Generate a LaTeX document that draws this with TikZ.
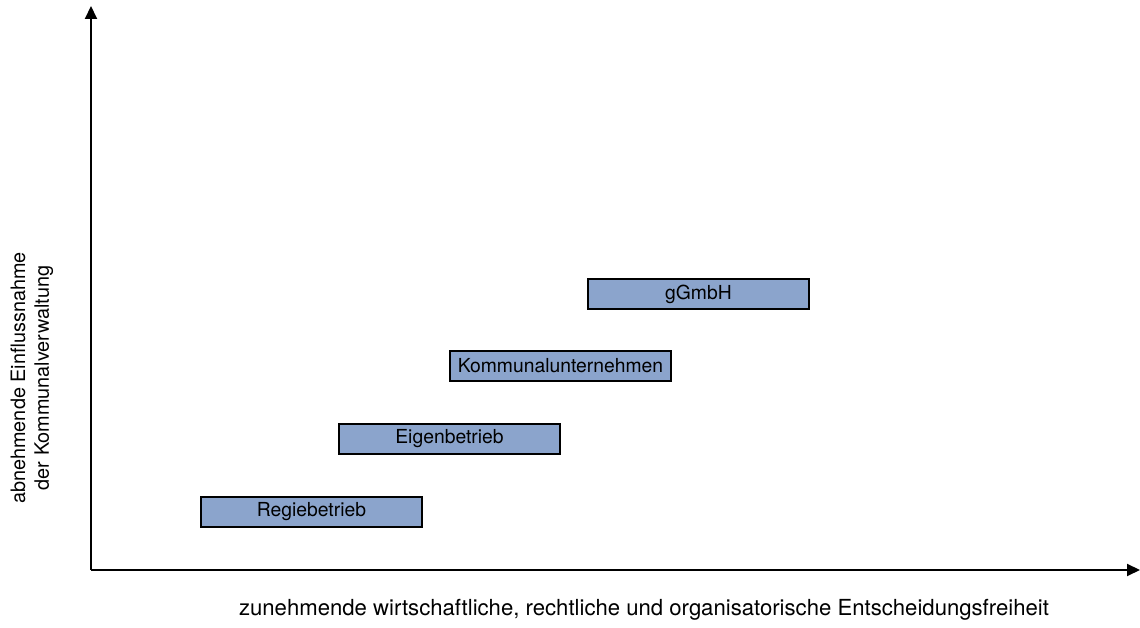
\documentclass[tikz,border=0pt]{standalone}
\usepackage{fontspec}
\setmainfont{TeX Gyre Heros}
\usetikzlibrary{arrows.meta}

\definecolor{boxblue}{RGB}{139,164,204}

\begin{document}
\begin{tikzpicture}[%
        x = 0.02cm,
        y = 0.02cm,
        line width = 0.4mm,
        > = {Triangle[length = 0.26cm, width = 0.24cm]},
        form/.style = {
            draw = black,
            line width = 0.3mm,
            fill = boxblue,
            minimum width = 4.42cm,
            minimum height = 0.6cm,
            inner sep = 0pt,
            font = \fontsize{11}{13}\selectfont
        },
        axislabel/.style = {
            align = center
        }
    ]
        \useasboundingbox (-91, -58) rectangle (1049, 570);

        % Draw the coordinate axes.
        \coordinate (origin) at (0, 0);
        \coordinate (xend) at (1049, 0);
        \coordinate (yend) at (0, 564);
        \draw[->] (origin) to (xend);
        \draw[->] (origin) to (yend);

        % Legal forms, rising with freedom of decision.
        \node[form] (regie) at (220.5, 58) {Regiebetrieb};
        \node[form] (eigen) at (358.5, 131) {Eigenbetrieb};
        \node[form] (kommunal) at (469.5, 204) {Kommunalunternehmen};
        \node[form] (ggmbh) at (607.5, 276) {gGmbH};

        % Labels for the axes.
        \node[axislabel, font = \fontsize{12.6}{15}\selectfont] (xlabel) at (553, -40)
            {zunehmende wirtschaftliche, rechtliche und organisatorische Entscheidungsfreiheit};
        \node[axislabel, font = \fontsize{11.3}{13.5}\selectfont, rotate = 90] (ylabel) at (-59, 192)
            {abnehmende Einflussnahme\\der Kommunalverwaltung};
    \end{tikzpicture}
\end{document}
